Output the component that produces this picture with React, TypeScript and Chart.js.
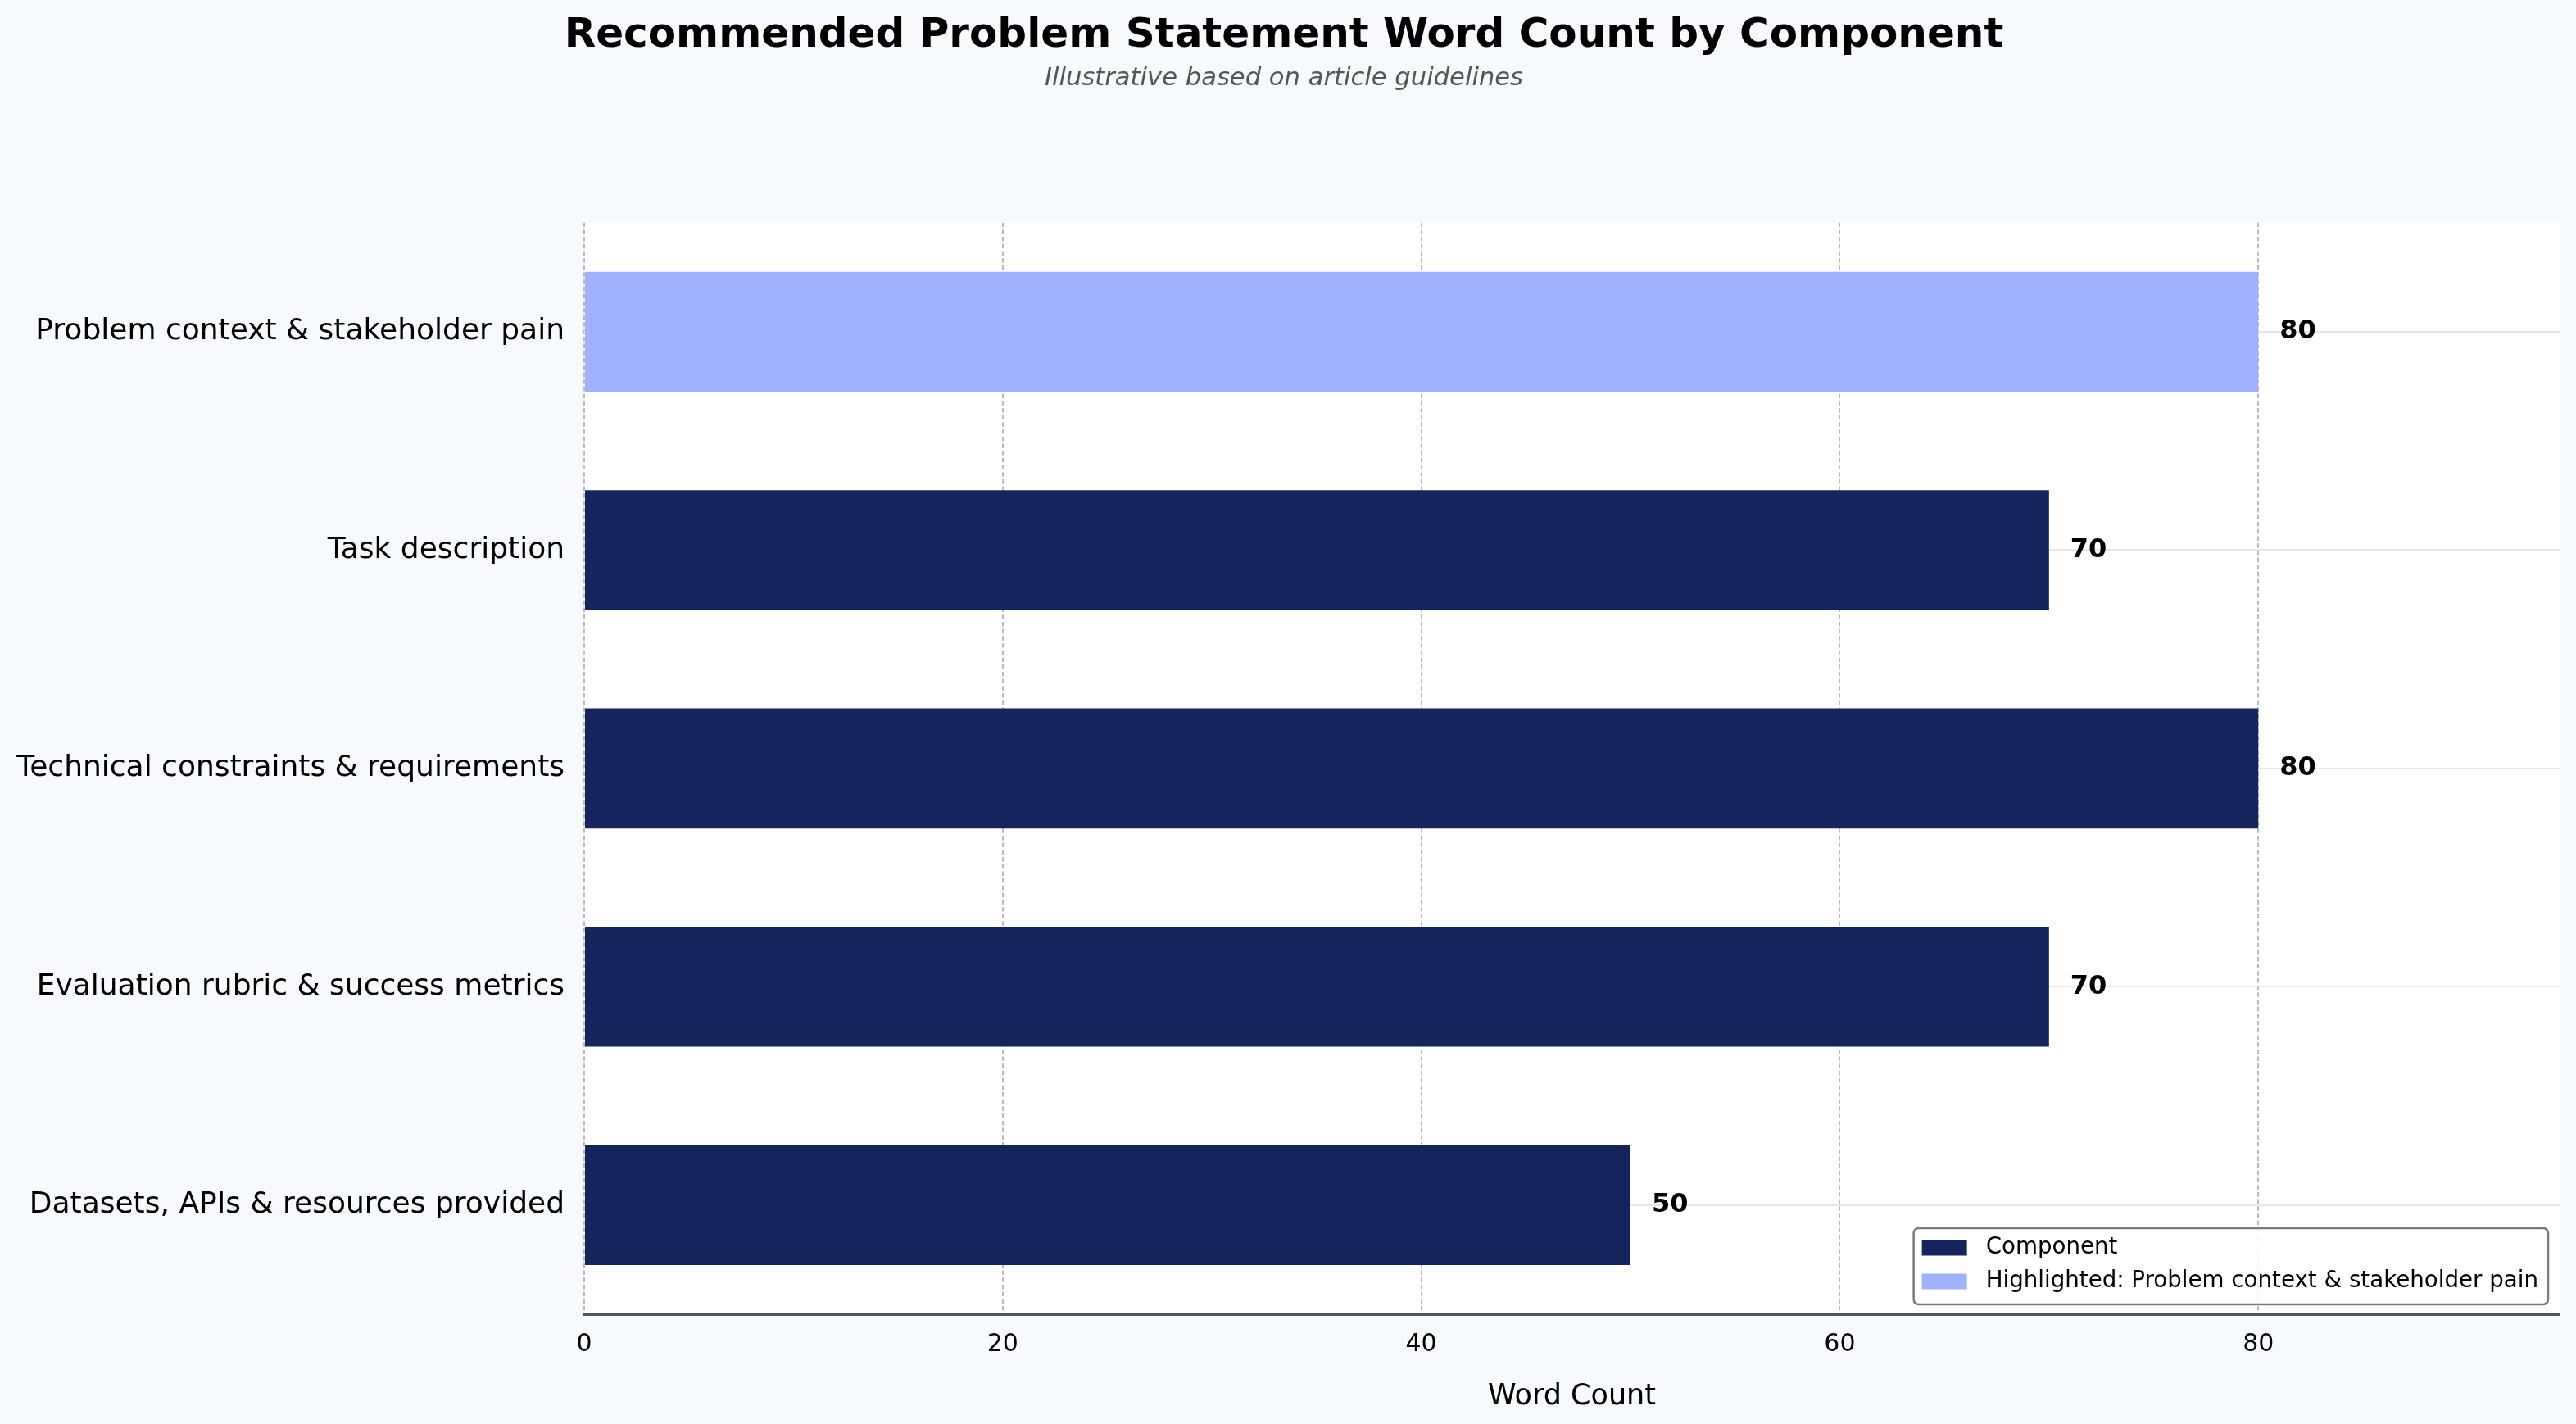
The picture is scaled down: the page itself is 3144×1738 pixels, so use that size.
import { useEffect, useRef } from "react";
import { Chart, registerables, type Plugin } from "chart.js";

Chart.register(...registerables);

const FONT = '"DejaVu Sans", sans-serif';
const PAGE_BG = "#F7F9FC";
const NAVY = "#15245D";
const HIGHLIGHT = "#A0B1FD";

// ── Data ───────────────────────────────────────────────────────────────
const CATEGORIES = [
  "Problem context & stakeholder pain",
  "Task description",
  "Technical constraints & requirements",
  "Evaluation rubric & success metrics",
  "Datasets, APIs & resources provided",
];
const WORD_COUNTS = [80, 70, 80, 70, 50];
const HIGHLIGHT_INDEX = 0;
const X_TICKS = [0, 20, 40, 60, 80];
const X_MAX = 94.4;
const LEGEND_LABELS = ["Component", "Highlighted: Problem context & stakeholder pain"];
const LEGEND_COLORS = [NAVY, HIGHLIGHT];

// page + plot backgrounds
const backgroundPlugin: Plugin<"bar"> = {
  id: "backgrounds",
  beforeDraw(chart) {
    const { ctx, chartArea: a, width, height } = chart;
    ctx.save();
    ctx.fillStyle = PAGE_BG;
    ctx.fillRect(0, 0, width, height);
    ctx.fillStyle = "#FFFFFF";
    ctx.fillRect(a.left, a.top, a.right - a.left, a.bottom - a.top);
    ctx.restore();
  },
};

// bold numbers at the end of each bar
const valueLabelPlugin: Plugin<"bar"> = {
  id: "valueLabels",
  afterDatasetsDraw(chart) {
    const { ctx } = chart;
    const meta = chart.getDatasetMeta(0);
    ctx.save();
    ctx.font = `bold 32px ${FONT}`;
    ctx.fillStyle = "#000";
    ctx.textAlign = "left";
    ctx.textBaseline = "middle";
    meta.data.forEach((bar, i) => {
      const { x, y } = bar.getProps(["x", "y"], true);
      ctx.fillText(String(WORD_COUNTS[i]), x + 26, y);
    });
    ctx.restore();
  },
};

// legend boxed inside the plot, lower right
const insideLegendPlugin: Plugin<"bar"> = {
  id: "insideLegend",
  afterDraw(chart) {
    const { ctx, chartArea: a } = chart;
    ctx.save();
    ctx.font = `27.7px ${FONT}`;
    const textW = Math.max(...LEGEND_LABELS.map((l) => ctx.measureText(l).width));
    const padL = 10, padR = 12, swW = 55, swH = 19, gap = 23, rowH = 41;
    const boxW = padL + swW + gap + textW + padR;
    const boxH = 93;
    const bx = a.right - 14 - boxW;
    const by = a.bottom - 12 - boxH;

    ctx.beginPath();
    ctx.roundRect(bx, by, boxW, boxH, 6);
    ctx.fillStyle = "rgba(255,255,255,0.85)";
    ctx.fill();
    ctx.lineWidth = 2.5;
    ctx.strokeStyle = "#7A7A7A";
    ctx.stroke();

    ctx.textAlign = "left";
    ctx.textBaseline = "middle";
    LEGEND_LABELS.forEach((label, i) => {
      const cy = by + 24 + i * rowH;
      ctx.fillStyle = LEGEND_COLORS[i];
      ctx.fillRect(bx + padL, cy - swH / 2, swW, swH);
      ctx.fillStyle = "#000";
      ctx.fillText(label, bx + padL + swW + gap, cy);
    });
    ctx.restore();
  },
};

export default function App() {
  const ref = useRef<HTMLCanvasElement>(null);
  const chartRef = useRef<Chart | null>(null);

  useEffect(() => {
    document.body.style.margin = "0";
    document.body.style.background = PAGE_BG;
    if (!ref.current) return;
    chartRef.current?.destroy();

    chartRef.current = new Chart(ref.current, {
      type: "bar",
      data: {
        labels: CATEGORIES,
        datasets: [{
          label: LEGEND_LABELS[0],
          data: WORD_COUNTS,
          backgroundColor: WORD_COUNTS.map((_, i) => (i === HIGHLIGHT_INDEX ? HIGHLIGHT : NAVY)),
          borderWidth: 0,
          barPercentage: 0.55,
          categoryPercentage: 1,
        }],
      },
      options: {
        indexAxis: "y",
        responsive: true,
        maintainAspectRatio: false,
        animation: false,
        layout: { padding: { left: 10, right: 20, top: 0, bottom: 0 } },
        plugins: {
          legend: { display: false },
          tooltip: { enabled: false },
          title: {
            display: true,
            text: "Recommended Problem Statement Word Count by Component",
            color: "#000",
            font: { family: FONT, size: 50, weight: "bold" },
            padding: { top: 14, bottom: 4 },
          },
          subtitle: {
            display: true,
            text: "Illustrative based on article guidelines",
            color: "#555",
            font: { family: FONT, size: 30.6, style: "italic" },
            padding: { top: 0, bottom: 157 },
          },
        },
        scales: {
          x: {
            type: "linear",
            min: 0,
            max: X_MAX,
            afterBuildTicks: (s) => { s.ticks = X_TICKS.map((v) => ({ value: v })); },
            afterFit: (s) => { s.height = 134; },
            ticks: { font: { family: FONT, size: 30 }, color: "#000", padding: 19 },
            grid: { color: "#BBBBBB", lineWidth: 2, drawTicks: false },
            border: { display: true, color: "#555", width: 3, dash: [5.5, 3.2] },
            title: {
              display: true,
              text: "Word Count",
              color: "#000",
              font: { family: FONT, size: 35 },
              padding: { top: 0, bottom: 12 },
            },
          },
          y: {
            type: "category",
            afterFit: (s) => { s.width = 703; },
            ticks: { font: { family: FONT, size: 36 }, color: "#000", padding: 24 },
            grid: { color: "#E8E8E8", lineWidth: 2, offset: false, drawTicks: false },
            border: { display: false },
          },
        },
      },
      plugins: [backgroundPlugin, valueLabelPlugin, insideLegendPlugin],
    });

    return () => { chartRef.current?.destroy(); };
  }, []);

  return (
    <div style={{ width: 3144, height: 1738, background: PAGE_BG }}>
      <canvas ref={ref} />
    </div>
  );
}
